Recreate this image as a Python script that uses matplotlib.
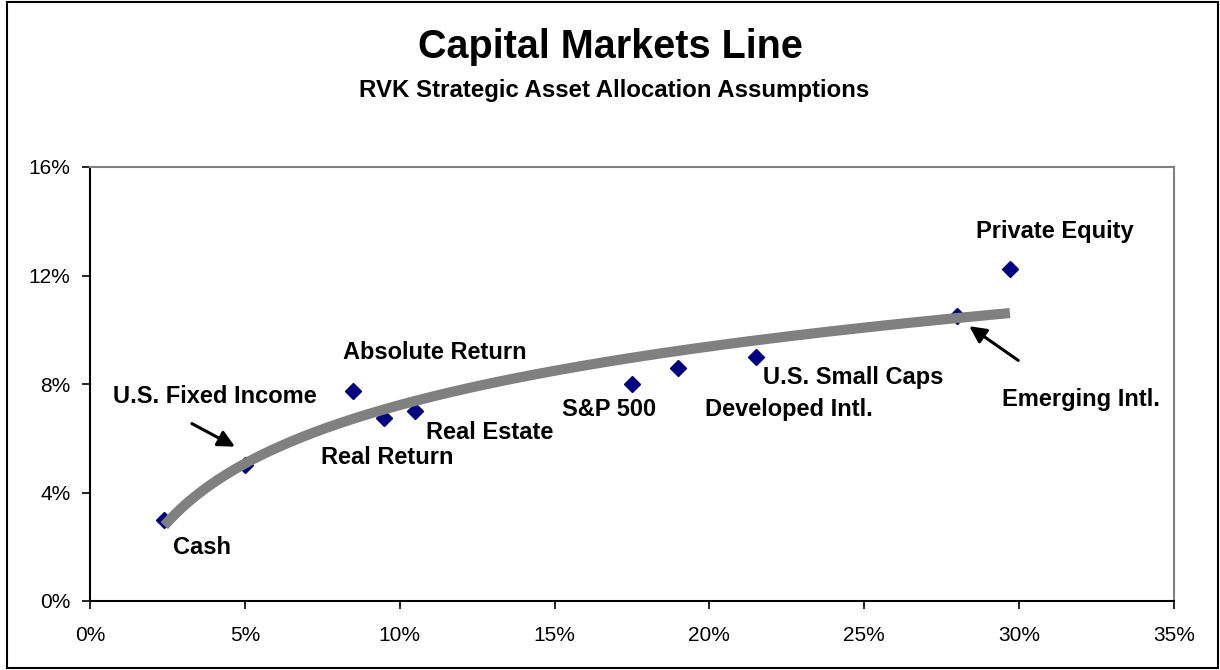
import numpy as np
import matplotlib
matplotlib.use("Agg")
import matplotlib.pyplot as plt
from matplotlib.patches import Rectangle

plt.rcParams['font.family'] = ['Liberation Sans', 'DejaVu Sans']

# Data (risk %, return %)
assets = ["Cash", "U.S. Fixed Income", "Absolute Return", "Real Return", "Real Estate",
          "S&P 500", "Developed Intl.", "U.S. Small Caps", "Emerging Intl.", "Private Equity"]
risk = [2.4, 5.0, 8.5, 9.5, 10.5, 17.5, 19.0, 21.5, 28.0, 29.7]
ret = [3.0, 5.0, 7.75, 6.75, 7.0, 8.0, 8.6, 9.0, 10.5, 12.25]

x_ticks = [0, 5, 10, 15, 20, 25, 30, 35]
y_ticks = [0, 4, 8, 12, 16]

# label positions (data coords)
label_pos = {
    "Cash": (3.61, 1.96),
    "U.S. Fixed Income": (4.02, 7.54),
    "Absolute Return": (11.13, 9.16),
    "Real Return": (9.61, 5.28),
    "Real Estate": (12.9, 6.21),
    "S&P 500": (16.77, 7.06),
    "Developed Intl.": (22.56, 7.06),
    "U.S. Small Caps": (24.65, 8.24),
    "Emerging Intl.": (31.98, 7.43),
    "Private Equity": (31.16, 13.64),
}

fig = plt.figure(figsize=(12.2, 6.7), dpi=100)
ax = fig.add_axes([90/1220, 69/670, (1174-90)/1220, (601-167)/670])

# outer border
fig.patches.append(Rectangle((7/1220, 2/670), (1218-7)/1220, (668-2)/670,
                             transform=fig.transFigure, fill=False,
                             edgecolor='black', linewidth=1.5))

x = np.array(risk)
y = np.array(ret)
ax.plot(x, y, linestyle='none', marker='D', markersize=7.8,
        color='#000080', zorder=3)

# logarithmic trendline fitted to the data
b, a = np.polyfit(np.log(x), y, 1)
xs = np.linspace(x.min(), x.max(), 300)
ax.plot(xs, a + b*np.log(xs), color='#808080', linewidth=7.3,
        solid_capstyle='butt', zorder=4)

for name in assets:
    px, py = label_pos[name]
    ax.text(px, py, name, fontsize=17, fontweight='bold', ha='center',
            va='center', zorder=5)

arrow_kw = dict(arrowstyle='-|>,head_length=1.0,head_width=0.5',
                color='black', lw=2.2, shrinkA=0, shrinkB=0)
ax.annotate('', xy=(4.68, 5.69), xytext=(3.29, 6.54), arrowprops=arrow_kw, zorder=6)
ax.annotate('', xy=(28.39, 10.13), xytext=(29.97, 8.87), arrowprops=arrow_kw, zorder=6)

ax.set_xlim(0, 35)
ax.set_ylim(0, 16)
ax.set_xticks(x_ticks)
ax.set_yticks(y_ticks)
ax.set_xticklabels([f"{t}%" for t in x_ticks])
ax.set_yticklabels([f"{t}%" for t in y_ticks])
ax.tick_params(direction='out', length=6, width=1.2, labelsize=15, pad=8,
               colors='black')
ax.tick_params(axis='x', pad=12)

for s in ['left', 'bottom']:
    ax.spines[s].set_color('black')
    ax.spines[s].set_linewidth(1.5)
for s in ['top', 'right']:
    ax.spines[s].set_color('#808080')
    ax.spines[s].set_linewidth(1.5)

fig.text(610/1220, 1 - 47/670, "Capital Markets Line", ha='center', va='center',
         fontsize=28.5, fontweight='bold')
fig.text(614/1220, 1 - 91/670, "RVK Strategic Asset Allocation Assumptions",
         ha='center', va='center', fontsize=17.3, fontweight='bold')

fig.savefig("out.png", dpi=100)
